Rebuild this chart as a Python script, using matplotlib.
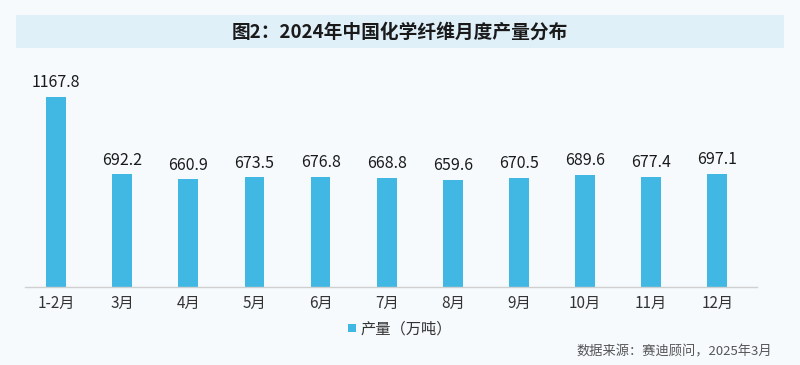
import matplotlib
matplotlib.use("Agg")
import matplotlib.pyplot as plt
from matplotlib.patches import Rectangle

plt.rcParams['font.family'] = ['Noto Sans CJK SC', 'DejaVu Sans']

months = ['1-2月', '3月', '4月', '5月', '6月', '7月', '8月', '9月', '10月', '11月', '12月']
output = [1167.8, 692.2, 660.9, 673.5, 676.8, 668.8, 659.6, 670.5, 689.6, 677.4, 697.1]
title = '图2：2024年中国化学纤维月度产量分布'
legend_label = '产量（万吨）'
source = '数据来源：赛迪顾问，2025年3月'

bar_color = '#40b8e3'
fig = plt.figure(figsize=(8, 3.65), dpi=100, facecolor='#f6fafd')

# title band
band = Rectangle((0.02, 1 - 48/365), 0.96, 33/365, transform=fig.transFigure,
                 facecolor='#dff0f9', edgecolor='none', zorder=0)
fig.patches.append(band)
fig.text(0.5, 1 - 32/365, title, ha='center', va='center', fontsize=13.5,
         fontweight='bold', color='#1a1a1a')

ax = fig.add_axes([25/800, 1 - 287/365, 732/800, 227/365])
ax.set_facecolor('none')
x = list(range(len(months)))
bars = ax.bar(x, output, width=0.3, color=bar_color, label=legend_label, zorder=2)
for xi, v in zip(x, output):
    ax.text(xi, v + 35, f'{v:.1f}', ha='center', va='bottom', fontsize=11.5, color='#1a1a1a')

ax.set_xlim(-0.47, 10.6)
ax.set_ylim(0, 1395)
ax.set_yticks([])
ax.set_xticks(x)
ax.set_xticklabels(months, fontsize=11, color='#333333')
ax.tick_params(axis='x', length=0, pad=6)
for s in ['top', 'right', 'left']:
    ax.spines[s].set_visible(False)
ax.spines['bottom'].set_color('#d0d0d0')
ax.spines['bottom'].set_linewidth(1)

leg = fig.legend(handles=[bars], labels=[legend_label], loc='center',
                 bbox_to_anchor=(0.5, 1 - 329/365), frameon=False, fontsize=11,
                 handlelength=0.5, handleheight=0.5, handletextpad=0.3)
for t in leg.get_texts():
    t.set_color('#333333')

fig.text(0.965, 1 - 352/365, source, ha='right', va='center', fontsize=9.5, color='#555555')

fig.savefig('out.png', dpi=100, facecolor=fig.get_facecolor())
